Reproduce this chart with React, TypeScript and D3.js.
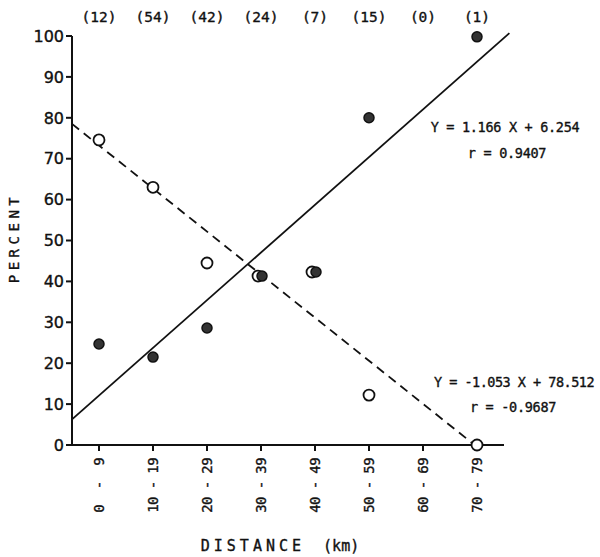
import * as d3 from 'd3';

const categories = ['0  -  9', '10 - 19', '20 - 29', '30 - 39', '40 - 49', '50 - 59', '60 - 69', '70 - 79'];
const midKm = [5, 15, 25, 35, 45, 55, 65, 75];
const counts = ['(12)', '(54)', '(42)', '(24)', '(7)', '(15)', '(0)', '(1)'];

// filled dots (null = no point)
const filledValues: (number | null)[] = [24.7, 21.5, 28.6, 41.3, 42.3, 80, null, 99.8];
// open circles
const openValues: (number | null)[] = [74.6, 63, 44.5, 41.3, 42.3, 12.2, null, 0];

const yTicks = [0, 10, 20, 30, 40, 50, 60, 70, 80, 90, 100];

const fitUp = { slope: 1.166, intercept: 6.254, r: 0.9407 };
const fitDown = { slope: -1.053, intercept: 78.512, r: -0.9687 };

const mono = '"DejaVu Sans Mono", monospace';
const sans = '"DejaVu Sans", sans-serif';
const ink = '#111';

export default function App() {
  const width = 600;
  const height = 557;

  const x = d3.scaleLinear().domain([0, 80]).range([72, 504]);
  const y = d3.scaleLinear().domain([0, 100]).range([445, 36]);

  const upLine = d3.line<number>()
    .x(d => x(d))
    .y(d => y(fitUp.slope * d + fitUp.intercept));
  const downLine = d3.line<number>()
    .x(d => x(d))
    .y(d => y(fitDown.slope * d + fitDown.intercept));

  const upEnd = 81;
  const downEnd = -fitDown.intercept / fitDown.slope;

  const near = (a: number | null, b: number | null) =>
    a !== null && b !== null && Math.abs(a - b) < 3;

  const textStroke = { stroke: ink, strokeWidth: 0.35 };

  return (
    <svg width={width} height={height}
      style={{ position: 'fixed', left: 0, top: 0, display: 'block', background: '#fff' }}>
      {/* top counts */}
      {counts.map((c, i) => (
        <text key={'c' + i} x={x(midKm[i])} y={22} textAnchor="middle"
          fontFamily={mono} fontSize={14.5} fill={ink} {...textStroke}>{c}</text>
      ))}

      {/* axes */}
      <line x1={x(0)} x2={x(0)} y1={y(100)} y2={y(0) + 1} stroke={ink} strokeWidth={2} />
      <line x1={x(0) - 6} x2={x(80)} y1={y(0)} y2={y(0)} stroke={ink} strokeWidth={2} />

      {yTicks.map(t => (
        <g key={'y' + t}>
          <line x1={x(0) - 6} x2={x(0)} y1={y(t)} y2={y(t)} stroke={ink} strokeWidth={2} />
          <text x={x(0) - 8} y={y(t)} dy="0.36em" textAnchor="end"
            fontFamily={sans} fontSize={16} fill={ink} {...textStroke}>{t}</text>
        </g>
      ))}

      {categories.map((c, i) => (
        <g key={'x' + i}>
          <line x1={x(midKm[i])} x2={x(midKm[i])} y1={y(0)} y2={y(0) + 6} stroke={ink} strokeWidth={2} />
          <text transform={`translate(${x(midKm[i])},${y(0) + 13}) rotate(-90)`}
            textAnchor="end" dy="0.35em" fontFamily={mono} fontSize={14} letterSpacing={-0.6}
            fill={ink} {...textStroke} style={{ whiteSpace: 'pre' }}>{c}</text>
        </g>
      ))}

      {/* regression lines */}
      <path d={upLine([0, upEnd]) || ''} stroke={ink} strokeWidth={1.8} fill="none" />
      <path d={downLine([0, downEnd]) || ''} stroke={ink} strokeWidth={1.8} fill="none" strokeDasharray="9,6" />

      {/* open circles */}
      {openValues.map((v, i) => v === null ? null : (
        <circle key={'o' + i}
          cx={x(midKm[i]) - (near(filledValues[i], v) ? 3 : 0)}
          cy={y(v)} r={5.5} fill="#fff" stroke={ink} strokeWidth={1.8} />
      ))}
      {/* filled dots */}
      {filledValues.map((v, i) => v === null ? null : (
        <circle key={'f' + i}
          cx={x(midKm[i]) + (near(openValues[i], v) ? 1 : 0)}
          cy={y(v)} r={5} fill="#333" stroke={ink} strokeWidth={1.5} />
      ))}

      {/* equations */}
      <text x={505} y={132} textAnchor="middle" fontFamily={mono} fontSize={13.5}
        letterSpacing={-0.3} fill={ink} {...textStroke}>
        {`Y = ${fitUp.slope.toFixed(3)} X + ${fitUp.intercept.toFixed(3)}`}
      </text>
      <text x={507} y={158} textAnchor="middle" fontFamily={mono} fontSize={13.5}
        letterSpacing={-0.3} fill={ink} {...textStroke}>
        {`r = ${fitUp.r.toFixed(4)}`}
      </text>
      <text x={514} y={387} textAnchor="middle" fontFamily={mono} fontSize={13.5}
        letterSpacing={-0.5} fill={ink} {...textStroke}>
        {`Y = ${fitDown.slope.toFixed(3)} X + ${fitDown.intercept.toFixed(3)}`}
      </text>
      <text x={513} y={412} textAnchor="middle" fontFamily={mono} fontSize={13.5}
        letterSpacing={-0.3} fill={ink} {...textStroke}>
        {`r = ${fitDown.r.toFixed(4)}`}
      </text>

      {/* axis titles */}
      <text transform="translate(14,238) rotate(-90)" textAnchor="middle" dy="0.35em"
        fontFamily={mono} fontSize={14} letterSpacing={4.5} fill={ink} {...textStroke}>PERCENT</text>
      <text x={280} y={551} textAnchor="middle" fontFamily={mono} fontSize={15} fill={ink}
        {...textStroke} style={{ whiteSpace: 'pre' }}>
        <tspan letterSpacing={4}>DISTANCE</tspan>
        <tspan>{'  (km)'}</tspan>
      </text>
    </svg>
  );
}
